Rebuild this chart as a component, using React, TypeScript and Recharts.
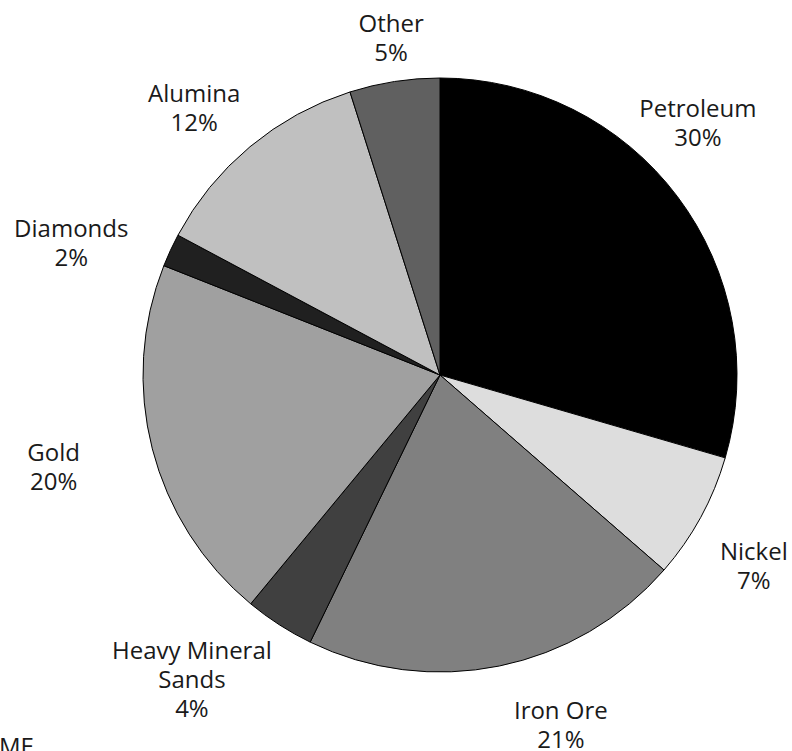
import React from 'react';
import { PieChart, Pie, Cell } from 'recharts';

// Export shares by commodity (percent)
const names = ['Petroleum', 'Nickel', 'Iron Ore', 'Heavy Mineral\nSands', 'Gold', 'Diamonds', 'Alumina', 'Other'];
const shares = [29.5, 6.9, 20.8, 3.8, 20.0, 1.8, 12.3, 4.9];
const greys = ['#000000', '#dddddd', '#808080', '#404040', '#a0a0a0', '#202020', '#c0c0c0', '#606060'];

// hand placement of the data labels, relative to each slice's mid angle (deg) and rim (px)
const labelNudge = [
  { dAngle: -7.5, dist: 64 },
  { dAngle: 2.6, dist: 70 },
  { dAngle: -7.6, dist: 72 },
  { dAngle: 6.5, dist: 95 },
  { dAngle: 1.1, dist: 100 },
  { dAngle: -5.0, dist: 95 },
  { dAngle: -2.7, dist: 67 },
  { dAngle: 0.6, dist: 45 },
];

const data = names.map((name, i) => ({ name, value: shares[i] }));

const FONT = '"Open Sans", "DejaVu Sans", sans-serif';
const LINE_H = 29;
const FONT_SIZE = 24;

const renderLabel = (props: any) => {
  const { cx, cy, midAngle, outerRadius, index } = props;
  const nudge = labelNudge[index];
  // recharts angles are counter-clockwise from 3 o'clock; convert to clockwise from 12
  const theta = ((90 - midAngle + nudge.dAngle) * Math.PI) / 180;
  const r = outerRadius + nudge.dist;
  const x = cx + r * Math.sin(theta);
  const y = cy - r * Math.cos(theta);
  const lines = [...names[index].split('\n'), `${Math.round(shares[index])}%`];
  const top = y - ((lines.length - 1) * LINE_H) / 2;
  return (
    <g key={`lbl-${index}`}>
      {lines.map((ln, j) => (
        <text
          key={j}
          x={x}
          y={top + j * LINE_H}
          textAnchor="middle"
          dominantBaseline="central"
          fontFamily={FONT}
          fontSize={FONT_SIZE}
          fill="#1a1a1a"
        >
          {ln}
        </text>
      ))}
    </g>
  );
};

export default function App() {
  return (
    <div style={{ position: 'absolute', left: 0, top: 0, width: 792, height: 751, overflow: 'hidden', background: '#fff' }}>
      <PieChart width={792} height={751} margin={{ top: 0, right: 0, bottom: 0, left: 0 }}>
        <Pie
          data={data}
          dataKey="value"
          nameKey="name"
          cx={440}
          cy={375}
          outerRadius={297}
          startAngle={90}
          endAngle={-270}
          stroke="#000"
          strokeWidth={1}
          label={renderLabel}
          labelLine={false}
          isAnimationActive={false}
        >
          {data.map((d, i) => (
            <Cell key={`cell-${i}`} fill={greys[i]} />
          ))}
        </Pie>
      </PieChart>
      <div
        style={{
          position: 'absolute',
          left: -1,
          top: 733,
          fontFamily: FONT,
          fontSize: FONT_SIZE,
          lineHeight: '26px',
          color: '#1a1a1a',
        }}
      >
        ME
      </div>
    </div>
  );
}
